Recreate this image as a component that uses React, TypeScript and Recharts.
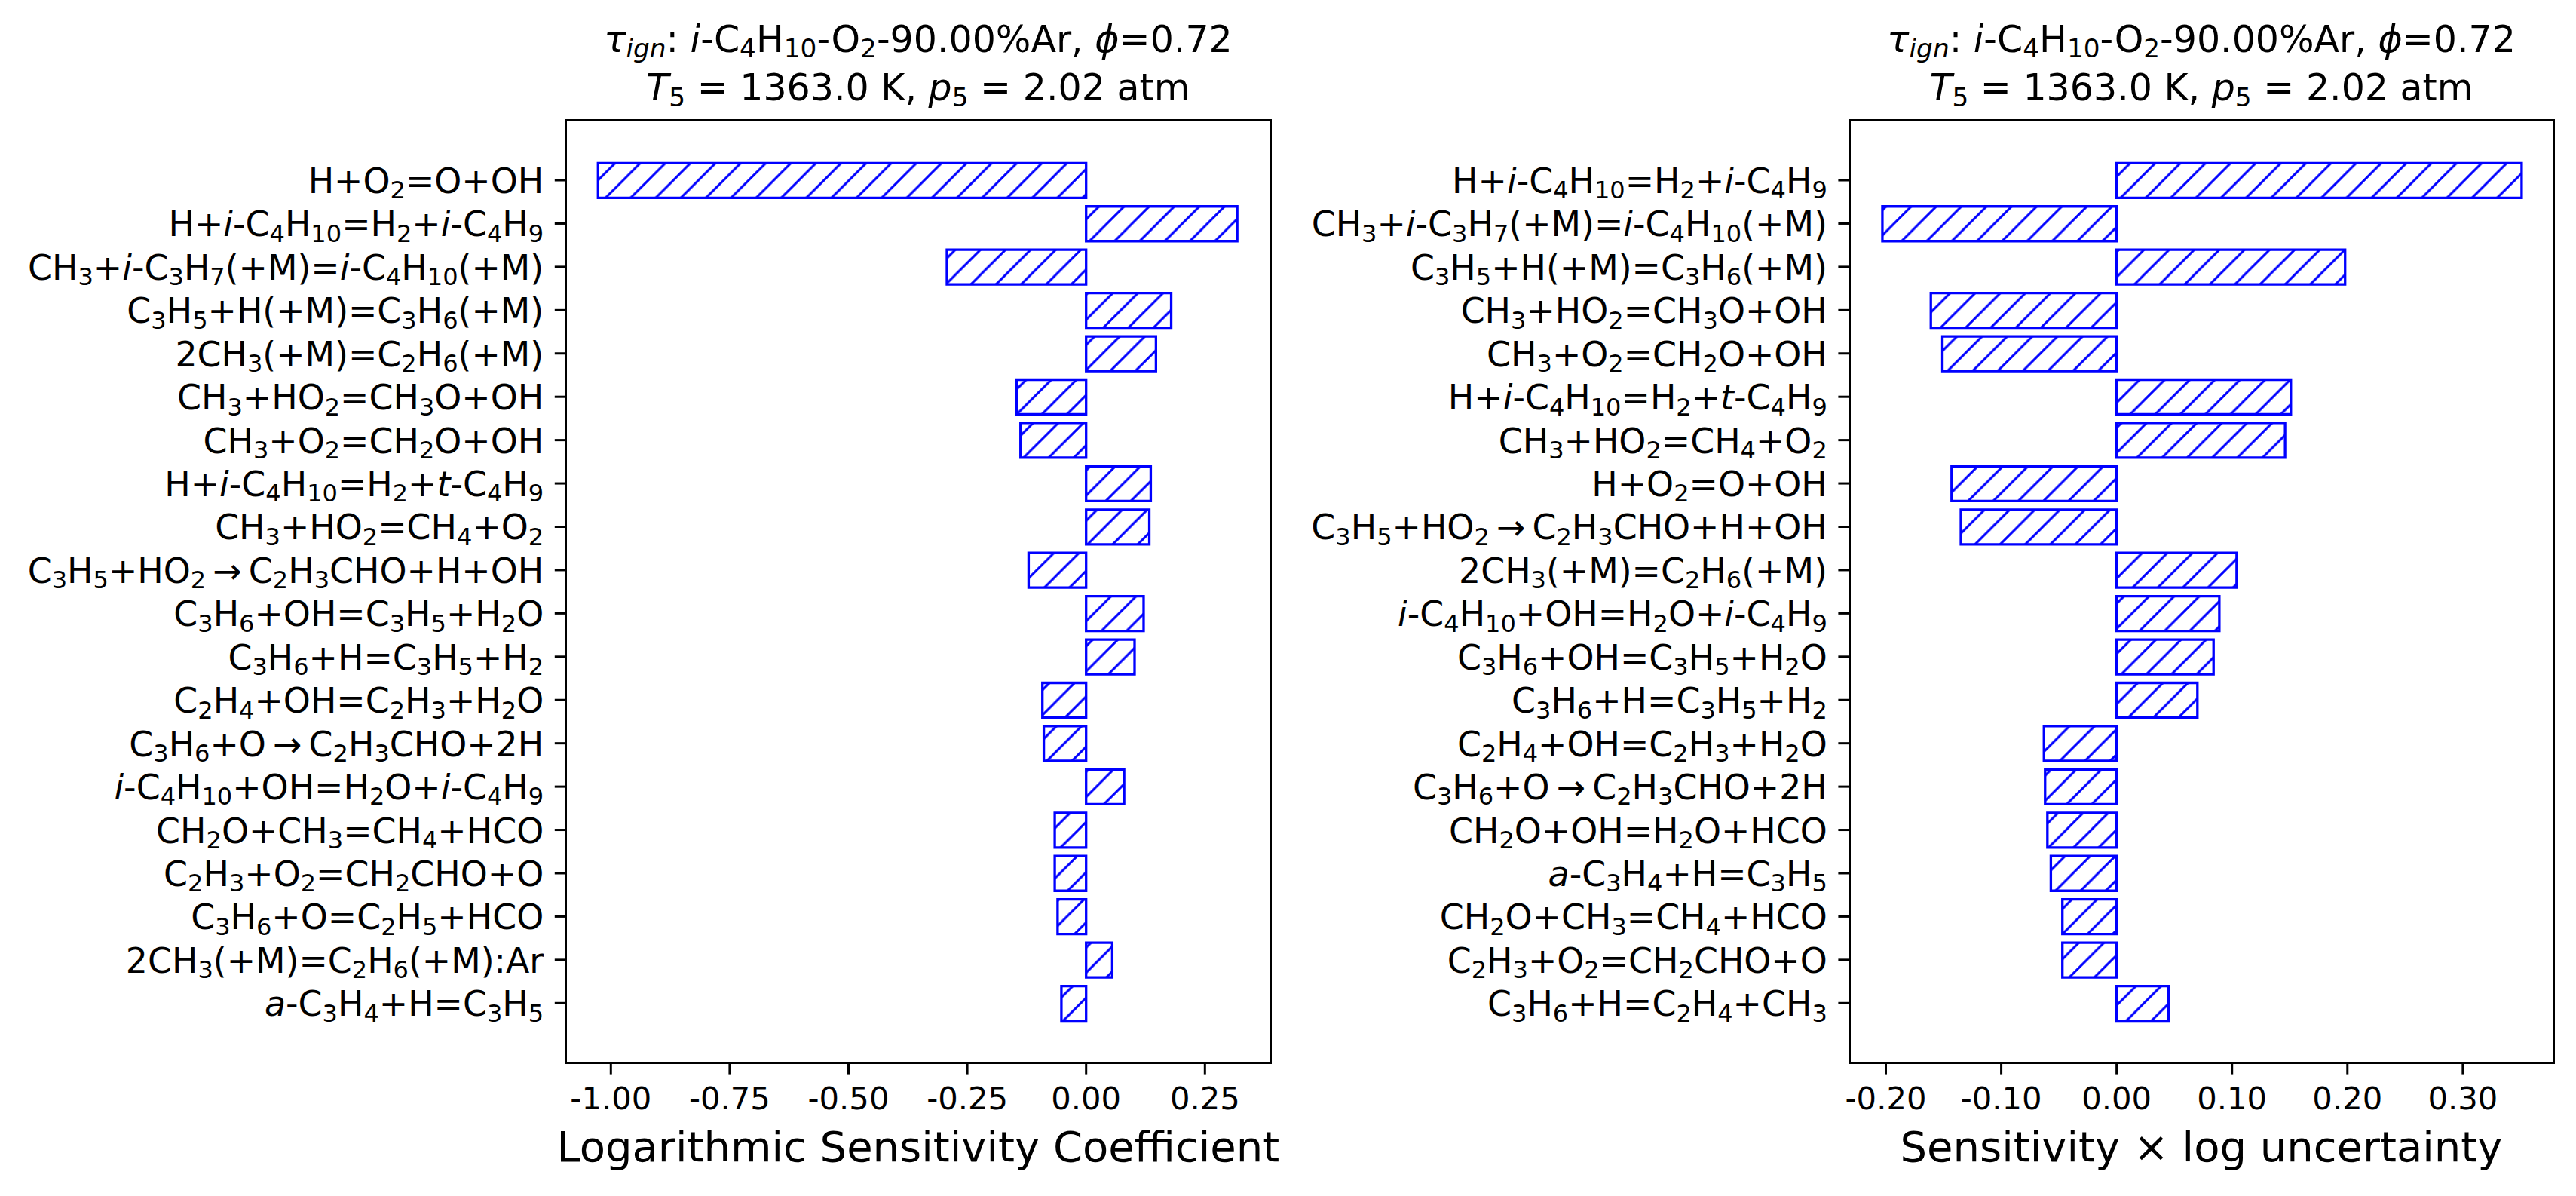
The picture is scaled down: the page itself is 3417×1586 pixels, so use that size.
import React from 'react';
import { BarChart, Bar, XAxis, YAxis } from 'recharts';

// reactions, top to bottom, as shown in each panel
// markup: _3 / _10 subscript digits, _{..} subscript group, *..* italic
const leftReactions = [
  'H+O_2=O+OH',
  'H+*i*-C_4H_10=H_2+*i*-C_4H_9',
  'CH_3+*i*-C_3H_7(+M)=*i*-C_4H_10(+M)',
  'C_3H_5+H(+M)=C_3H_6(+M)',
  '2CH_3(+M)=C_2H_6(+M)',
  'CH_3+HO_2=CH_3O+OH',
  'CH_3+O_2=CH_2O+OH',
  'H+*i*-C_4H_10=H_2+*t*-C_4H_9',
  'CH_3+HO_2=CH_4+O_2',
  'C_3H_5+HO_2\u2009→\u2009C_2H_3CHO+H+OH',
  'C_3H_6+OH=C_3H_5+H_2O',
  'C_3H_6+H=C_3H_5+H_2',
  'C_2H_4+OH=C_2H_3+H_2O',
  'C_3H_6+O\u2009→\u2009C_2H_3CHO+2H',
  '*i*-C_4H_10+OH=H_2O+*i*-C_4H_9',
  'CH_2O+CH_3=CH_4+HCO',
  'C_2H_3+O_2=CH_2CHO+O',
  'C_3H_6+O=C_2H_5+HCO',
  '2CH_3(+M)=C_2H_6(+M):Ar',
  '*a*-C_3H_4+H=C_3H_5',
];
const leftSensitivity = [
  -1.027, 0.318, -0.293, 0.179, 0.147, -0.146, -0.138, 0.136, 0.133, -0.121,
  0.121, 0.102, -0.092, -0.089, 0.080, -0.066, -0.066, -0.060, 0.055, -0.052,
];

const rightReactions = [
  'H+*i*-C_4H_10=H_2+*i*-C_4H_9',
  'CH_3+*i*-C_3H_7(+M)=*i*-C_4H_10(+M)',
  'C_3H_5+H(+M)=C_3H_6(+M)',
  'CH_3+HO_2=CH_3O+OH',
  'CH_3+O_2=CH_2O+OH',
  'H+*i*-C_4H_10=H_2+*t*-C_4H_9',
  'CH_3+HO_2=CH_4+O_2',
  'H+O_2=O+OH',
  'C_3H_5+HO_2\u2009→\u2009C_2H_3CHO+H+OH',
  '2CH_3(+M)=C_2H_6(+M)',
  '*i*-C_4H_10+OH=H_2O+*i*-C_4H_9',
  'C_3H_6+OH=C_3H_5+H_2O',
  'C_3H_6+H=C_3H_5+H_2',
  'C_2H_4+OH=C_2H_3+H_2O',
  'C_3H_6+O\u2009→\u2009C_2H_3CHO+2H',
  'CH_2O+OH=H_2O+HCO',
  '*a*-C_3H_4+H=C_3H_5',
  'CH_2O+CH_3=CH_4+HCO',
  'C_2H_3+O_2=CH_2CHO+O',
  'C_3H_6+H=C_2H_4+CH_3',
];
const rightUncertainty = [
  0.351, -0.203, 0.198, -0.161, -0.151, 0.151, 0.146, -0.143, -0.135, 0.104,
  0.089, 0.084, 0.070, -0.063, -0.062, -0.060, -0.057, -0.047, -0.047, 0.045,
];

const leftTicks = [-1.0, -0.75, -0.5, -0.25, 0.0, 0.25];
const rightTicks = [-0.2, -0.1, 0.0, 0.1, 0.2, 0.3];

const titleLine1 = '*τ*_{*ign*}: *i*-C_4H_10-O_2-90.00%Ar, *ϕ*=0.72';
const titleLine2 = '*T*_5 = 1363.0 K, *p*_5 = 2.02 atm';
const leftXLabel = 'Logarithmic Sensitivity Coefficient';
const rightXLabel = 'Sensitivity × log uncertainty';

const leftData = leftReactions.map((name, i) => ({ name, value: leftSensitivity[i] }));
const rightData = rightReactions.map((name, i) => ({ name, value: rightUncertainty[i] }));

const FONT = '"DejaVu Sans", sans-serif';
const BLUE = '#0000ff';
const TICK_FS = 41.7;
const LABEL_FS = 45.8;

type Piece = { text: string; sub: boolean; italic: boolean };

function parseRich(src: string): Piece[] {
  const out: Piece[] = [];
  let buf = '';
  let italic = false;
  let sub = false;
  let subDigits = false;
  const flush = () => {
    if (buf) out.push({ text: buf, sub, italic });
    buf = '';
  };
  for (let i = 0; i < src.length; i++) {
    const c = src[i];
    if (subDigits && !/[0-9]/.test(c)) {
      flush();
      sub = false;
      subDigits = false;
    }
    if (c === '*') {
      flush();
      italic = !italic;
      continue;
    }
    if (c === '_') {
      flush();
      sub = true;
      if (src[i + 1] === '{') i++;
      else subDigits = true;
      continue;
    }
    if (c === '}' && sub && !subDigits) {
      flush();
      sub = false;
      continue;
    }
    buf += c;
  }
  flush();
  return out;
}

function richSpans(src: string, size: number) {
  const shift = size * 0.16;
  let inSub = false;
  return parseRich(src).map((p, k) => {
    let dy = 0;
    if (p.sub && !inSub) dy = shift;
    if (!p.sub && inSub) dy = -shift;
    inSub = p.sub;
    return (
      <tspan
        key={k}
        dy={dy || undefined}
        fontSize={p.sub ? size * 0.7 : size}
        fontStyle={p.italic ? 'italic' : 'normal'}
      >
        {p.text}
      </tspan>
    );
  });
}

const YTick = (props: any) => {
  const { x, y, payload } = props;
  return (
    <text x={x} y={y} dy={17} textAnchor="end" fontFamily={FONT} fontSize={LABEL_FS} fill="#000">
      {richSpans(payload.value, LABEL_FS)}
    </text>
  );
};

const XTick = (props: any) => {
  const { x, y, payload } = props;
  return (
    <text x={x} y={y} dy={46} textAnchor="middle" fontFamily={FONT} fontSize={TICK_FS} fill="#000">
      {Number(payload.value).toFixed(2)}
    </text>
  );
};

// plot boxes in page pixels
const BOX_TOP = 159.3;
const BOX_BOTTOM = 1410;
const LEFT_BOX = { x0: 750.4, x1: 1685.3 };
const RIGHT_BOX = { x0: 2453, x1: 3387 };

function Panel({ data, ticks, domain, offsetX, width, box }: any) {
  const xAxisH = 60;
  return (
    <div style={{ position: 'absolute', left: offsetX, top: 0 }}>
      <BarChart
        width={width}
        height={1586}
        data={data}
        layout="vertical"
        margin={{ top: BOX_TOP, right: width - (box.x1 - offsetX), bottom: 1586 - BOX_BOTTOM - xAxisH, left: 0 }}
      >
        <XAxis
          type="number"
          domain={domain}
          ticks={ticks}
          allowDataOverflow
          height={xAxisH}
          axisLine={false}
          tickLine={{ stroke: '#000', strokeWidth: 3 }}
          tickSize={14.6}
          tickMargin={0}
          tick={<XTick />}
          interval={0}
        />
        <YAxis
          type="category"
          dataKey="name"
          width={box.x0 - offsetX}
          axisLine={false}
          tickLine={{ stroke: '#000', strokeWidth: 3 }}
          tickSize={14.6}
          tickMargin={14.6}
          tick={<YTick />}
          interval={0}
          padding={{ top: 51, bottom: 51 }}
        />
        <Bar
          dataKey="value"
          fill="url(#hatch)"
          stroke={BLUE}
          strokeWidth={3.3}
          barSize={46}
          isAnimationActive={false}
        />
      </BarChart>
    </div>
  );
}

function Frame({ box }: any) {
  return (
    <div
      style={{
        position: 'absolute',
        left: box.x0 - 1.5,
        top: BOX_TOP - 1.5,
        width: box.x1 - box.x0 + 3,
        height: BOX_BOTTOM - BOX_TOP + 3,
        border: '3px solid #000',
        boxSizing: 'border-box',
        pointerEvents: 'none',
      }}
    />
  );
}

export default function App() {
  const lc = (LEFT_BOX.x0 + LEFT_BOX.x1) / 2;
  const rc = (RIGHT_BOX.x0 + RIGHT_BOX.x1) / 2;
  return (
    <div style={{ position: 'absolute', left: 0, top: 0, width: 3417, height: 1586, background: '#fff', overflow: 'hidden' }}>
      <svg width={0} height={0} style={{ position: 'absolute' }}>
        <defs>
          <pattern id="hatch" patternUnits="userSpaceOnUse" width={33.3} height={33.3}>
            <path
              d="M-8.3,8.3 L8.3,-8.3 M0,33.3 L33.3,0 M25,41.6 L41.6,25"
              stroke={BLUE}
              strokeWidth={3}
            />
          </pattern>
        </defs>
      </svg>
      <Panel data={leftData} ticks={leftTicks} domain={[-1.095, 0.388]} offsetX={0} width={1710} box={LEFT_BOX} />
      <Panel data={rightData} ticks={rightTicks} domain={[-0.2317, 0.3785]} offsetX={1710} width={1707} box={RIGHT_BOX} />
      <Frame box={LEFT_BOX} />
      <Frame box={RIGHT_BOX} />
      <svg width={3417} height={1586} style={{ position: 'absolute', left: 0, top: 0, pointerEvents: 'none' }}>
        <g fontFamily={FONT} fill="#000" textAnchor="middle">
          <text x={lc} y={68.5} fontSize={49}>{richSpans(titleLine1, 49)}</text>
          <text x={lc} y={133} fontSize={49}>{richSpans(titleLine2, 49)}</text>
          <text x={rc} y={68.5} fontSize={49}>{richSpans(titleLine1, 49)}</text>
          <text x={rc} y={133} fontSize={49}>{richSpans(titleLine2, 49)}</text>
          <text x={lc} y={1540} fontSize={56}>{leftXLabel}</text>
          <text x={rc} y={1540} fontSize={56}>{rightXLabel}</text>
        </g>
      </svg>
    </div>
  );
}
